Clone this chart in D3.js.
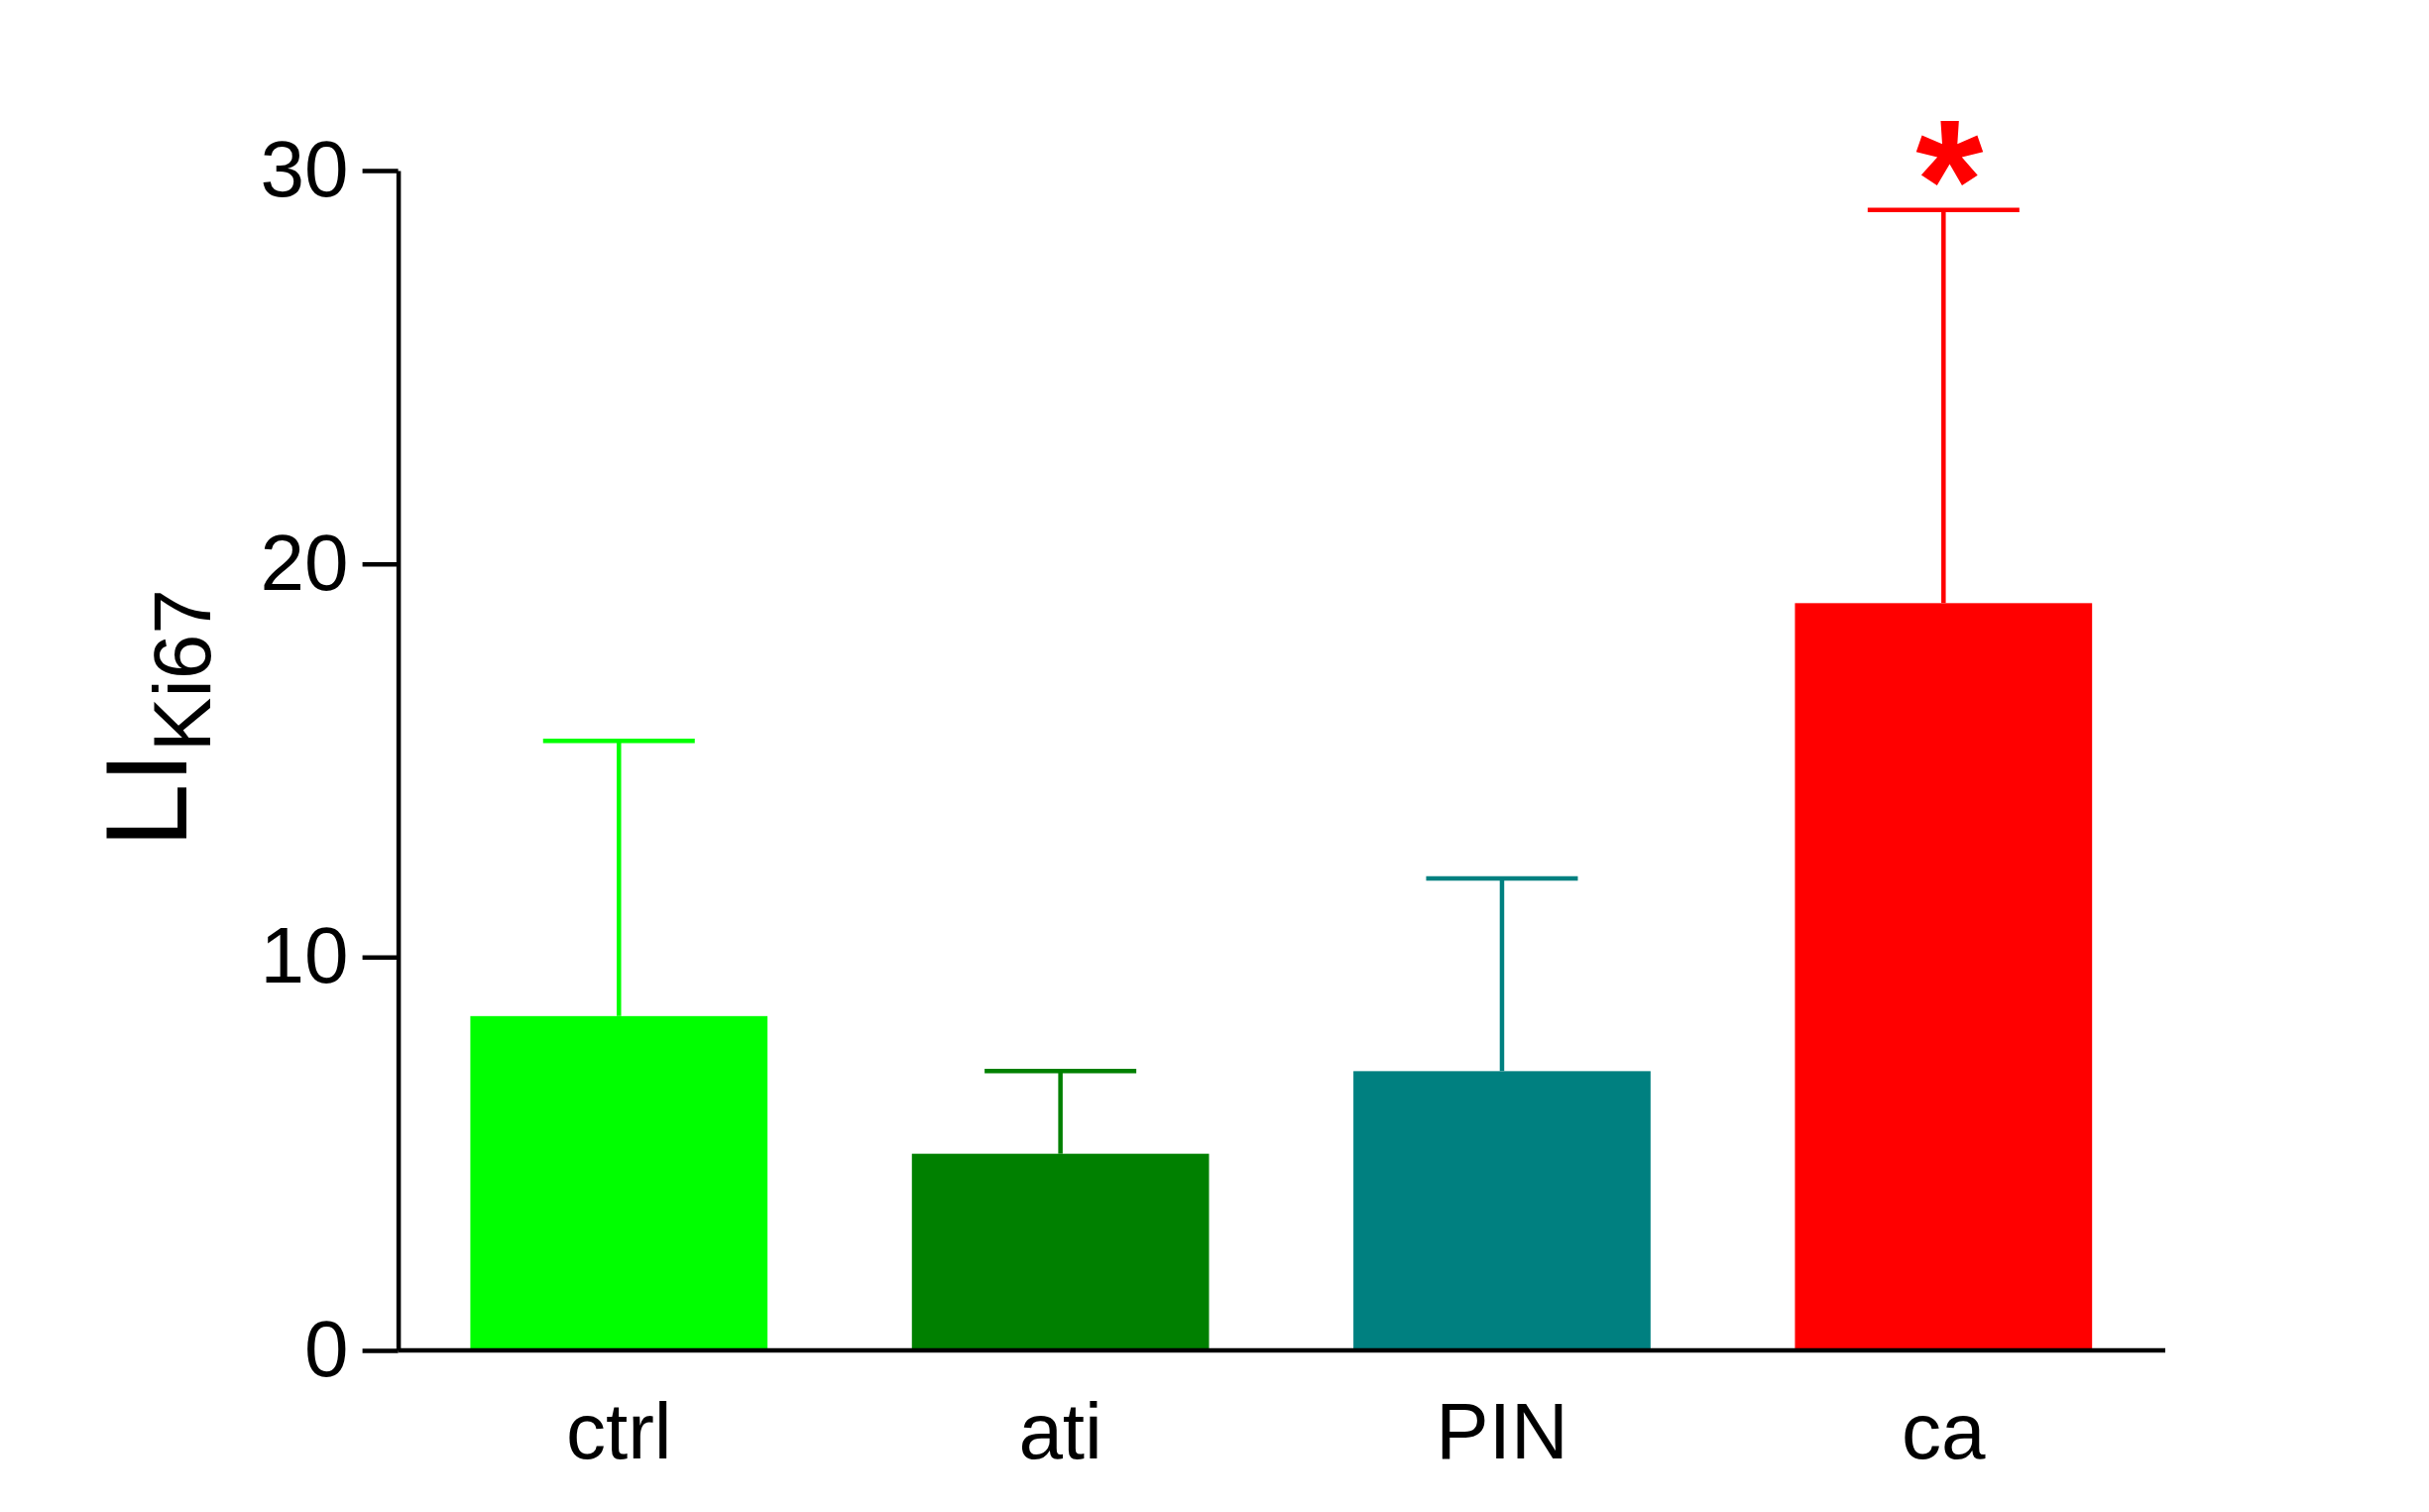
<!DOCTYPE html>
<html>
<head>
<meta charset="utf-8">
<script src="https://cdn.jsdelivr.net/npm/d3@7"></script>
<style>
  html, body { margin: 0; padding: 0; background: #fff; }
  svg { display: block; font-family: "Liberation Sans", Arial, sans-serif; }
</style>
</head>
<body>
<script>
const categories = ["ctrl", "ati", "PIN", "ca"];
const means = [8.5, 5.0, 7.1, 19.0];
const errors = [7.0, 2.1, 4.9, 10.0];
const colors = ["#00ff00", "#008000", "#008080", "#ff0000"];
const yTicks = [0, 10, 20, 30];
const significance = ["", "", "", "*"];

const W = 2450, H = 1525;
const svg = d3.select("body").append("svg").attr("width", W).attr("height", H);

const x = d3.scaleBand().domain(categories).range([401.6, 2183]).paddingInner(0.327).paddingOuter(0.1635);
const y = d3.scaleLinear().domain([0, 30]).range([1362, 172]);

// bars
svg.append("g").selectAll("rect").data(categories).join("rect")
  .attr("x", d => x(d))
  .attr("width", x.bandwidth())
  .attr("y", (d, i) => y(means[i]))
  .attr("height", (d, i) => y(0) - y(means[i]))
  .attr("fill", (d, i) => colors[i]);

// error bars
const capW = 153;
const eb = svg.append("g").selectAll("g").data(categories).join("g");
eb.append("line")
  .attr("x1", d => x(d) + x.bandwidth() / 2)
  .attr("x2", d => x(d) + x.bandwidth() / 2)
  .attr("y1", (d, i) => y(means[i]))
  .attr("y2", (d, i) => y(means[i] + errors[i]))
  .attr("stroke", (d, i) => colors[i]).attr("stroke-width", 4.5);
eb.append("line")
  .attr("x1", d => x(d) + x.bandwidth() / 2 - capW / 2)
  .attr("x2", d => x(d) + x.bandwidth() / 2 + capW / 2)
  .attr("y1", (d, i) => y(means[i] + errors[i]))
  .attr("y2", (d, i) => y(means[i] + errors[i]))
  .attr("stroke", (d, i) => colors[i]).attr("stroke-width", 4.5);

// significance markers
svg.append("g").selectAll("text").data(categories).join("text")
  .attr("x", d => x(d) + x.bandwidth() / 2 + 6)
  .attr("y", (d, i) => y(means[i] + errors[i]) + 30)
  .attr("text-anchor", "middle")
  .attr("font-size", 175)
  .attr("font-weight", "bold")
  .attr("fill", (d, i) => colors[i])
  .text((d, i) => significance[i]);

// y axis
const yAxis = svg.append("g").attr("transform", "translate(401.6,0)")
  .call(d3.axisLeft(y).tickValues(yTicks).tickSize(36).tickSizeOuter(0).tickPadding(14));
yAxis.selectAll("path, line").attr("stroke", "#000").attr("stroke-width", 4.5);
yAxis.selectAll("text").attr("font-size", 80).attr("font-family", "Liberation Sans, Arial, sans-serif").attr("fill", "#000");

// x axis
const xAxis = svg.append("g").attr("transform", `translate(0,${y(0)})`)
  .call(d3.axisBottom(x).tickSize(0).tickSizeOuter(0).tickPadding(52));
xAxis.select(".domain").attr("stroke", "#000").attr("stroke-width", 4.5)
  .attr("d", `M401.6,0H2184`);
xAxis.selectAll("text").attr("font-size", 80).attr("font-family", "Liberation Sans, Arial, sans-serif").attr("fill", "#000");

// y axis title
const title = svg.append("text")
  .attr("transform", "translate(188,855) rotate(-90)")
  .attr("fill", "#000");
title.append("tspan").attr("font-size", 116).text("LI");
title.append("tspan").attr("font-size", 82).attr("dy", 24).text("Ki67");
</script>
</body>
</html>
